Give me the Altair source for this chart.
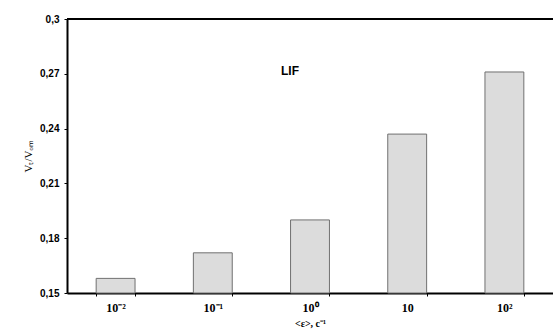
import altair as alt
import pandas as pd

categories = ["10⁻²", "10⁻¹", "10⁰", "10", "10²"]
values = [0.158, 0.172, 0.190, 0.237, 0.271]
base = 0.15
y_ticks = [0.15, 0.18, 0.21, 0.24, 0.27, 0.3]

df = pd.DataFrame({"cat": categories, "v": values, "b": [base] * len(values)})

x_enc = alt.X("cat:N", sort=categories, scale=alt.Scale(paddingInner=0.6, paddingOuter=0.3),
              axis=alt.Axis(title="<ε>, c⁻¹", labelAngle=0, labelFont="Liberation Serif",
                            labelFontWeight="bold", labelFontSize=12, labelColor="black",
                            titleFont="Liberation Serif", titleFontSize=10, titleFontWeight="bold",
                            titleColor="black", titlePadding=5,
                            domainColor="black", domainWidth=2, tickBand="extent",
                            tickColor="black", tickSize=3, labelPadding=6))

bars = alt.Chart(df).mark_bar(fill="#dcdcdc", stroke="#707070", strokeWidth=1).encode(
    x=x_enc,
    y=alt.Y("v:Q", scale=alt.Scale(domain=[0.15, 0.3], zero=False, nice=False),
            axis=alt.Axis(values=y_ticks, title="Vₜ/Vₒₘ", grid=False,
                          labelExpr="replace(format(datum.value, '.2~f'), '.', ',')",
                          labelFont="Liberation Sans", labelFontWeight="bold", labelFontSize=10,
                          labelColor="black", titleFont="Liberation Serif", titleFontSize=11,
                          titleFontWeight="normal", titleColor="black", titlePadding=6,
                          domainColor="black", domainWidth=2, tickColor="black", tickSize=3,
                          labelPadding=5)),
    y2="b:Q",
)

top = alt.Chart(pd.DataFrame({"y": [0.3]})).mark_rule(color="black", strokeWidth=2).encode(
    y="y:Q"
)

label = alt.Chart(pd.DataFrame({"t": ["LIF"]})).mark_text(
    font="Liberation Sans", fontWeight="bold", fontSize=12, color="black"
).encode(text="t:N", x=alt.value(223), y=alt.value(52))

chart = alt.layer(bars, top, label).properties(
    width=486, height=274,
    autosize=alt.AutoSizeParams(type="none"),
    padding={"left": 67, "top": 19, "right": 0, "bottom": 39},
).configure_view(stroke=None).configure(background="white")

chart.save("out.html", embed_options={"renderer": "svg", "actions": False})
